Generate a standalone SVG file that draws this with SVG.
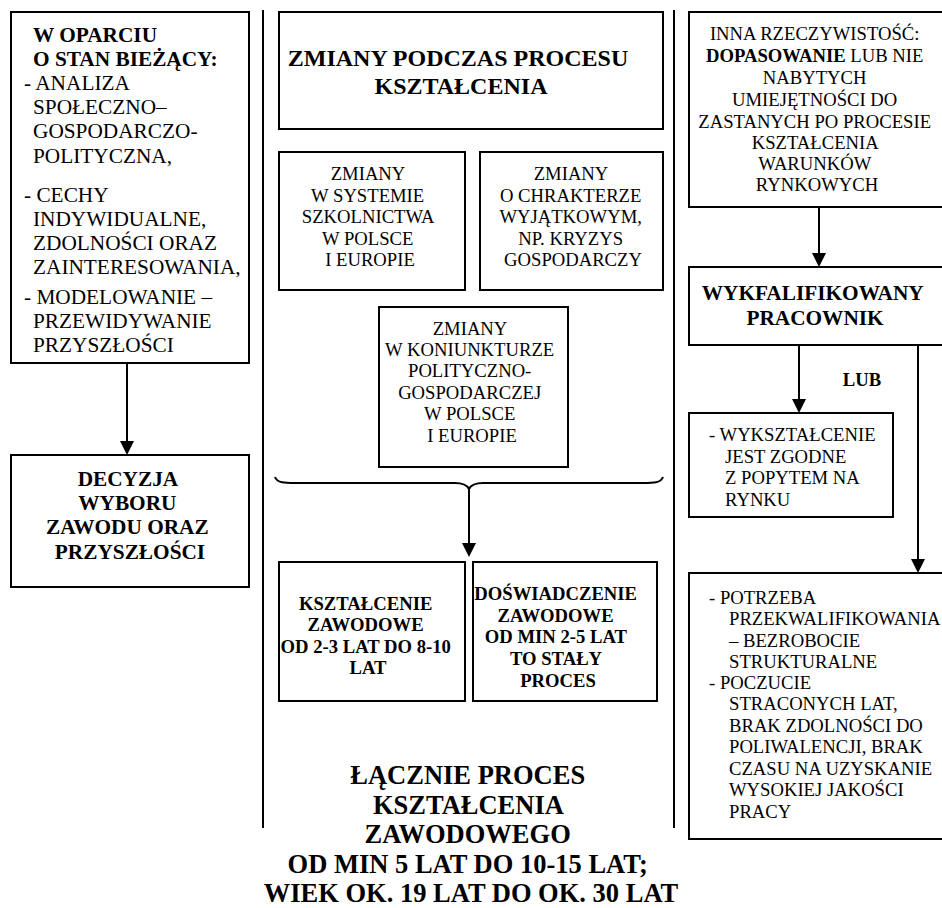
<svg xmlns="http://www.w3.org/2000/svg" width="942" height="908" viewBox="0 0 942 908" font-family="'Liberation Serif', 'Times New Roman', Times, serif">
  <style>
    .box { fill: #ffffff; stroke: #000000; stroke-width: 2; }
    .rule { stroke: #000000; stroke-width: 2; fill: none; }
    .link { stroke: #000000; stroke-width: 2; fill: none; marker-end: url(#head); }
    text { fill: #000000; }
    .t14 { font-size: 18.67px; }
    .t16 { font-size: 21.3px; }
    .b14 { font-size: 18.67px; font-weight: bold; }
    .b16 { font-size: 21.3px; font-weight: bold; }
    .b18 { font-size: 24px; font-weight: bold; }
    .b20 { font-size: 26.5px; font-weight: bold; }
    .mid { text-anchor: middle; }
  </style>
  <defs>
    <marker id="head" markerUnits="userSpaceOnUse" markerWidth="14" markerHeight="14" refX="4" refY="7" orient="auto">
      <path d="M0,0 L14,7 L0,14 z" fill="#000000"/>
    </marker>
  </defs>
  <rect width="942" height="908" fill="#ffffff"/>

  <!-- column separators -->
  <g id="separators">
    <line class="rule" x1="263" y1="10" x2="263" y2="828"/>
    <line class="rule" x1="674" y1="10" x2="674" y2="828"/>
  </g>

  <!-- left column -->
  <g id="stan-biezacy">
    <rect class="box" x="11" y="12" width="238" height="351"/>
    <text class="t16">
      <tspan class="b16" x="33" y="42">W OPARCIU</tspan>
      <tspan class="b16" x="33" y="66">O STAN BIEŻĄCY:</tspan>
      <tspan x="24" y="90">- ANALIZA</tspan>
      <tspan x="33" y="114">SPOŁECZNO–</tspan>
      <tspan x="33" y="138">GOSPODARCZO-</tspan>
      <tspan x="33" y="163">POLITYCZNA,</tspan>
      <tspan x="24" y="202">- CECHY</tspan>
      <tspan x="33" y="226">INDYWIDUALNE,</tspan>
      <tspan x="33" y="250">ZDOLNOŚCI ORAZ</tspan>
      <tspan x="33" y="274">ZAINTERESOWANIA,</tspan>
      <tspan x="24" y="304">- MODELOWANIE –</tspan>
      <tspan x="33" y="328">PRZEWIDYWANIE</tspan>
      <tspan x="33" y="352">PRZYSZŁOŚCI</tspan>
    </text>
  </g>

  <g id="decyzja">
    <rect class="box" x="11" y="455" width="238" height="132"/>
    <text class="b16 mid">
      <tspan x="130" y="486">DECYZJA</tspan>
      <tspan x="130" y="510">WYBORU</tspan>
      <tspan x="130" y="534">ZAWODU ORAZ</tspan>
      <tspan x="130" y="559">PRZYSZŁOŚCI</tspan>
    </text>
  </g>

  <!-- middle column -->
  <g id="zmiany-podczas">
    <rect class="box" x="279" y="12" width="384" height="117"/>
    <text class="b18 mid">
      <tspan x="461" y="66">ZMIANY PODCZAS PROCESU</tspan>
      <tspan x="461" y="94">KSZTAŁCENIA</tspan>
    </text>
  </g>

  <g id="zmiany-szkolnictwo">
    <rect class="box" x="279" y="152" width="186" height="138"/>
    <text class="t14 mid">
      <tspan x="370" y="180">ZMIANY</tspan>
      <tspan x="370" y="201.5">W SYSTEMIE</tspan>
      <tspan x="370" y="223">SZKOLNICTWA</tspan>
      <tspan x="370" y="244.5">W POLSCE</tspan>
      <tspan x="370" y="266">I EUROPIE</tspan>
    </text>
  </g>

  <g id="zmiany-wyjatkowe">
    <rect class="box" x="480" y="152" width="183" height="138"/>
    <text class="t14 mid">
      <tspan x="573" y="180">ZMIANY</tspan>
      <tspan x="573" y="201.5">O CHRAKTERZE</tspan>
      <tspan x="573" y="223">WYJĄTKOWYM,</tspan>
      <tspan x="573" y="244.5">NP. KRYZYS</tspan>
      <tspan x="573" y="266">GOSPODARCZY</tspan>
    </text>
  </g>

  <g id="zmiany-koniunktura">
    <rect class="box" x="379" y="307" width="189" height="160"/>
    <text class="t14 mid">
      <tspan x="472" y="335">ZMIANY</tspan>
      <tspan x="472" y="356">W KONIUNKTURZE</tspan>
      <tspan x="472" y="377">POLITYCZNO-</tspan>
      <tspan x="472" y="398.5">GOSPODARCZEJ</tspan>
      <tspan x="472" y="420">W POLSCE</tspan>
      <tspan x="472" y="441.5">I EUROPIE</tspan>
    </text>
  </g>

  <g id="ksztalcenie">
    <rect class="box" x="279" y="562" width="186" height="139"/>
    <text class="b14 mid">
      <tspan x="368" y="609.5">KSZTAŁCENIE</tspan>
      <tspan x="368" y="631">ZAWODOWE</tspan>
      <tspan x="368" y="652.5">OD 2-3 LAT DO 8-10</tspan>
      <tspan x="368" y="674">LAT</tspan>
    </text>
  </g>

  <g id="doswiadczenie">
    <rect class="box" x="473" y="562" width="184" height="139"/>
    <text class="b14 mid">
      <tspan x="558" y="599.5">DOŚWIADCZENIE</tspan>
      <tspan x="558" y="621.5">ZAWODOWE</tspan>
      <tspan x="558" y="642.5">OD MIN 2-5 LAT</tspan>
      <tspan x="558" y="664.5">TO STAŁY</tspan>
      <tspan x="558" y="686.5">PROCES</tspan>
    </text>
  </g>

  <g id="lacznie">
    <text class="b20 mid">
      <tspan x="471" y="784">ŁĄCZNIE PROCES</tspan>
      <tspan x="471" y="813.5">KSZTAŁCENIA</tspan>
      <tspan x="471" y="843">ZAWODOWEGO</tspan>
      <tspan x="471" y="872.5">OD MIN 5 LAT DO 10-15 LAT;</tspan>
      <tspan x="471" y="902">WIEK OK. 19 LAT DO OK. 30 LAT</tspan>
    </text>
  </g>

  <!-- right column -->
  <g id="inna-rzeczywistosc">
    <rect class="box" x="689" y="12" width="270" height="195"/>
    <text class="t14 mid">
      <tspan x="817" y="40">INNA RZECZYWISTOŚĆ:</tspan>
      <tspan x="817" y="62"><tspan font-weight="bold">DOPASOWANIE</tspan> LUB NIE</tspan>
      <tspan x="817" y="84">NABYTYCH</tspan>
      <tspan x="817" y="106">UMIEJĘTNOŚCI DO</tspan>
      <tspan x="817" y="128">ZASTANYCH PO PROCESIE</tspan>
      <tspan x="817" y="149">KSZTAŁCENIA</tspan>
      <tspan x="817" y="170">WARUNKÓW</tspan>
      <tspan x="817" y="191">RYNKOWYCH</tspan>
    </text>
  </g>

  <g id="pracownik">
    <rect class="box" x="689" y="267" width="270" height="78"/>
    <text class="b16 mid">
      <tspan x="815" y="300">WYKFALIFIKOWANY</tspan>
      <tspan x="815" y="324.5">PRACOWNIK</tspan>
    </text>
  </g>

  <g id="lub">
    <text class="b14 mid" x="862" y="386">LUB</text>
  </g>

  <g id="zgodne">
    <rect class="box" x="689" y="413" width="204" height="104"/>
    <text class="t14">
      <tspan x="709" y="441">- WYKSZTAŁCENIE</tspan>
      <tspan x="725" y="462.5">JEST ZGODNE</tspan>
      <tspan x="725" y="484">Z POPYTEM NA</tspan>
      <tspan x="725" y="505.5">RYNKU</tspan>
    </text>
  </g>

  <g id="przekwalifikowanie">
    <rect class="box" x="689" y="573" width="270" height="266"/>
    <text class="t14">
      <tspan x="709" y="604">- POTRZEBA</tspan>
      <tspan x="729" y="625">PRZEKWALIFIKOWANIA</tspan>
      <tspan x="729" y="646.5">– BEZROBOCIE</tspan>
      <tspan x="729" y="668">STRUKTURALNE</tspan>
      <tspan x="709" y="689">- POCZUCIE</tspan>
      <tspan x="729" y="710">STRACONYCH LAT,</tspan>
      <tspan x="729" y="732">BRAK ZDOLNOŚCI DO</tspan>
      <tspan x="729" y="753">POLIWALENCJI, BRAK</tspan>
      <tspan x="729" y="774.5">CZASU NA UZYSKANIE</tspan>
      <tspan x="729" y="796">WYSOKIEJ JAKOŚCI</tspan>
      <tspan x="729" y="817.5">PRACY</tspan>
    </text>
  </g>

  <!-- connectors -->
  <g id="connectors">
    <line class="link" x1="127" y1="363" x2="127" y2="445"/>
    <path class="rule" d="M275,477 C277,483 285,483 295,483 L455,483 C463,483 467,485 469,489 C471,485 475,483 483,483 L643,483 C653,483 661,483 663,477"/>
    <line class="link" x1="469" y1="489" x2="469" y2="547"/>
    <line class="link" x1="819" y1="207" x2="819" y2="257"/>
    <line class="link" x1="799" y1="345" x2="799" y2="403"/>
    <line class="link" x1="918" y1="345" x2="918" y2="563"/>
  </g>
</svg>
